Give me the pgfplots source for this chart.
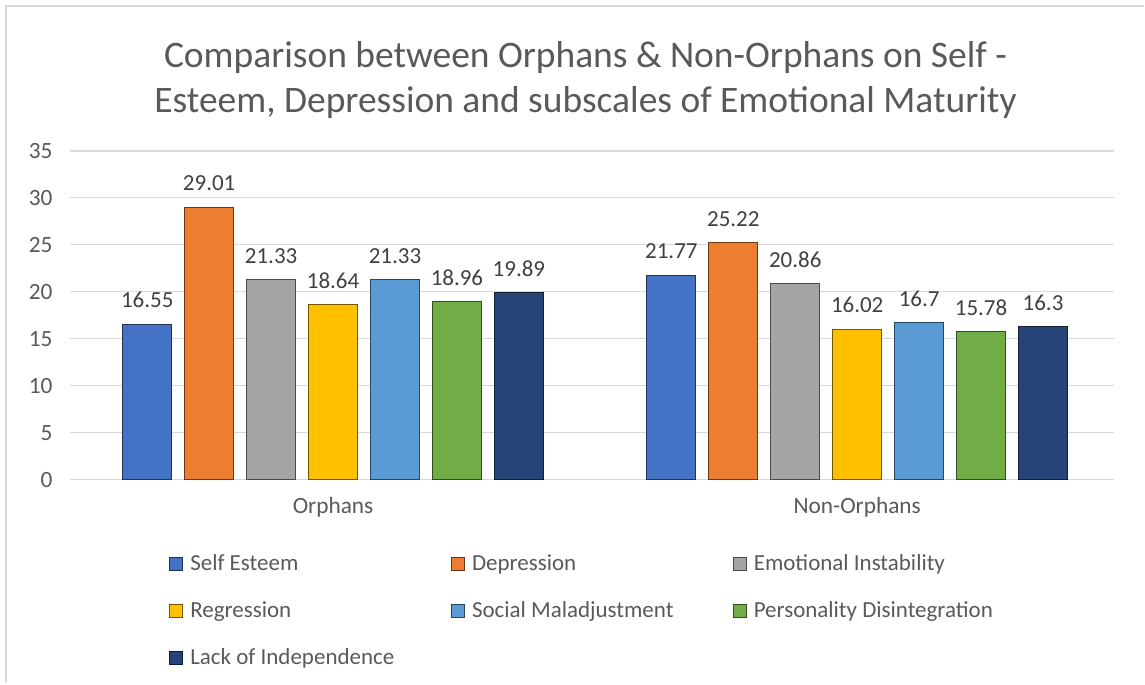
\documentclass[border=0pt]{standalone}
\usepackage{pgfplots}
\pgfplotsset{compat=1.18}
\usepackage{fontspec}
\setmainfont{Carlito}
\definecolor{cSE}{HTML}{4472C4}
\definecolor{cDE}{HTML}{ED7D31}
\definecolor{cEI}{HTML}{A5A5A5}
\definecolor{cRE}{HTML}{FFC000}
\definecolor{cSM}{HTML}{5B9BD5}
\definecolor{cPD}{HTML}{70AD47}
\definecolor{cLI}{HTML}{264478}
\definecolor{tgray}{HTML}{595959}
\definecolor{lgray}{HTML}{404040}
\definecolor{grid}{HTML}{D9D9D9}
\newcommand{\lgt}[1]{\makebox[157pt][l]{\hspace{2.5pt}#1}}
\begin{document}
\begin{tikzpicture}[x=0.6pt,y=0.6pt]
\path (0,0) rectangle (1145,684);
\draw[color=grid, line width=1.2pt] (6,0) -- (6,678) -- (1145,678);
\node[font=\fontsize{22.5}{27}\selectfont, text=tgray, align=center] at (586,604) {Comparison between Orphans \& Non-Orphans on Self -\\Esteem, Depression and subscales of Emotional Maturity};
\begin{axis}[
  at={(42pt,122.4pt)}, anchor=south west,
  scale only axis, width=627pt, height=197.4pt,
  xmin=-0.502, xmax=1.49, ymin=0, ymax=35,
  ytick={0,5,...,35},
  xtick={0,1}, xticklabels={Orphans,Non-Orphans},
  ybar=7.8pt, bar width=29.4pt,
  ymajorgrids, grid style={color=grid, line width=0.8pt},
  axis line style={draw=none},
  major tick length=0,
  /pgf/number format/assume math mode=true,
  tick label style={font=\fontsize{14}{16}\selectfont, text=tgray},
  yticklabel style={xshift=-7pt},
  xticklabel style={yshift=-7pt},
  nodes near coords,
  nodes near coords style={font=\fontsize{13.8}{16}\selectfont, text=lgray, /pgf/number format/fixed, /pgf/number format/precision=2, yshift=6pt},
  legend columns=3,
  legend cell align=left,
  legend style={at={(0.0947,-0.217)}, anchor=north west, draw=none, fill=none, inner sep=0pt,
    font=\fontsize{13.8}{16}\selectfont, text=tgray, row sep=13.2pt},
  legend image code/.code={\draw[#1, line width=0.4pt] (0pt,-3.9pt) rectangle (7.8pt,3.9pt);},
]
\addplot[fill=cSE, draw=cSE!45!black, line width=0.6pt] coordinates {(0,16.55) (1,21.77)};
\addplot[fill=cDE, draw=cDE!45!black, line width=0.6pt] coordinates {(0,29.01) (1,25.22)};
\addplot[fill=cEI, draw=cEI!45!black, line width=0.6pt] coordinates {(0,21.33) (1,20.86)};
\addplot[fill=cRE, draw=cRE!45!black, line width=0.6pt] coordinates {(0,18.64) (1,16.02)};
\addplot[fill=cSM, draw=cSM!45!black, line width=0.6pt] coordinates {(0,21.33) (1,16.7)};
\addplot[fill=cPD, draw=cPD!45!black, line width=0.6pt] coordinates {(0,18.96) (1,15.78)};
\addplot[fill=cLI, draw=cLI!45!black, line width=0.6pt] coordinates {(0,19.89) (1,16.3)};
\legend{\lgt{Self Esteem},\lgt{Depression},\lgt{Emotional Instability},\lgt{Regression},\lgt{Social Maladjustment},\lgt{Personality Disintegration},\lgt{Lack of Independence}}
\end{axis}
\end{tikzpicture}
\end{document}
